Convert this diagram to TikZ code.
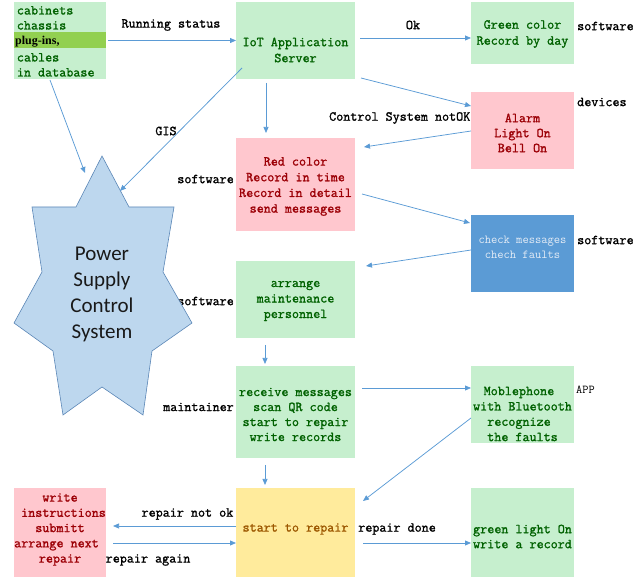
\documentclass[tikz,border=0pt]{standalone}
\usepackage{fontspec}
\newfontfamily\monof[FakeBold=1.3]{Latin Modern Mono}
\newfontfamily\monor{Latin Modern Mono}
\newfontfamily\serff{Liberation Serif}
\newfontfamily\carf{Carlito}
\usetikzlibrary{arrows.meta}
\definecolor{gfill}{HTML}{C6EFCE}
\definecolor{gtext}{HTML}{006100}
\definecolor{rfill}{HTML}{FFC7CE}
\definecolor{rtext}{HTML}{9C0006}
\definecolor{yfill}{HTML}{FFEB9C}
\definecolor{ytext}{HTML}{9C5700}
\definecolor{bfill}{HTML}{5B9BD5}
\definecolor{btext}{HTML}{E4ECF6}
\definecolor{hlfill}{HTML}{92D050}
\definecolor{starfill}{HTML}{BDD7EE}
\definecolor{starline}{HTML}{5A86B6}
\definecolor{arrc}{HTML}{5B9BD5}
\newcommand\boxfont{\monof\fontsize{13.7}{15.5}\selectfont}
\newcommand\boxfontw{\monof\fontsize{13.7}{16}\selectfont}
\newcommand\lblfont{\monof\fontsize{13.7}{14}\selectfont}
\begin{document}
\begin{tikzpicture}[x=1pt,y=-1pt,
  shape box/.style={inner sep=0pt, outer sep=0pt, draw=none},
  gbox/.style={shape box, fill=gfill},
  rbox/.style={shape box, fill=rfill},
  ybox/.style={shape box, fill=yfill},
  bbox/.style={shape box, fill=bfill},
  gtxt/.style={inner sep=0pt, align=center, text=gtext, font=\boxfont},
  rtxt/.style={inner sep=0pt, align=center, text=rtext, font=\boxfont},
  ytxt/.style={inner sep=0pt, align=center, text=ytext, font=\boxfont},
  btxt/.style={inner sep=0pt, align=center, text=btext, font=\monor\fontsize{12.2}{15}\selectfont},
  lbl/.style={inner sep=0pt, font=\lblfont, text=black},
  arr/.style={draw=arrc, line width=0.75pt, -{Triangle[length=6pt,width=5pt]}},
  starsty/.style={fill=starfill, draw=starline, line width=0.6pt, line join=miter}
]
\useasboundingbox (0,0) rectangle (641,577);

% ---- boxes ----
\node[gbox, minimum width=92pt, minimum height=77pt] (box1) at (60,40.5) {};
\fill[hlfill] (14,32) rectangle (106,48.3);
\node[gbox, minimum width=119pt, minimum height=77pt] (iot) at (295.5,40.5) {};
\node[gbox, minimum width=103pt, minimum height=62pt] (green1) at (522.5,33) {};
\node[rbox, minimum width=103pt, minimum height=77pt] (alarm) at (522.5,130.5) {};
\node[rbox, minimum width=119pt, minimum height=93pt] (red) at (295.5,184.5) {};
\node[bbox, minimum width=103pt, minimum height=77pt] (check) at (522.5,253.5) {};
\node[gbox, minimum width=119pt, minimum height=77pt] (arrange) at (295.5,299.5) {};
\node[gbox, minimum width=119pt, minimum height=92pt] (receive) at (295.5,412) {};
\node[gbox, minimum width=103pt, minimum height=77pt] (mobile) at (522.5,404.5) {};
\node[ybox, minimum width=119pt, minimum height=89pt] (start) at (295.5,532.5) {};
\node[rbox, minimum width=92pt, minimum height=89pt] (write) at (60,532.5) {};
\node[gbox, minimum width=103pt, minimum height=89pt] (green2) at (522.5,532.5) {};

% ---- box texts ----
\node[gtxt, anchor=base west] (b1a) at (16.7,14.5) {cabinets};
\node[gtxt, anchor=base west] (b1b) at (16.7,29.5) {chassis};
\node[inner sep=0pt, anchor=base west, font=\serff\bfseries\fontsize{12}{14}\selectfont] (b1c) at (15,44.5) {plug-ins,};
\node[gtxt, anchor=base west] (b1d) at (16.7,61.5) {cables};
\node[gtxt, anchor=base west] (b1e) at (16.7,76.5) {in database};

\node[gtxt, font=\boxfontw] (iot-t) at (295.5,50) {IoT Application\\Server};
\node[gtxt, font=\boxfontw] (green1-t) at (522.5,34) {Green color\\Record by day};
\node[rtxt, font=\monof\fontsize{13.7}{15}\selectfont] (alarm-t) at (522.5,133) {Alarm\\Light On\\Bell On};
\node[rtxt, font=\monof\fontsize{13.7}{15.67}\selectfont] (red-t) at (295.5,186.5) {Red color\\Record in time\\Record in detail\\send messages};
\node[btxt] (check-t) at (522.5,247.5) {check messages\\chech faults};
\node[gtxt] (arrange-t) at (295.5,301) {arrange\\maintenance\\personnel};
\node[gtxt, font=\monof\fontsize{13.7}{15}\selectfont] (receive-t) at (295.5,414.5) {receive messages\\scan QR code\\start to repair\\write records};
\node[gtxt, font=\monof\fontsize{13.7}{15.33}\selectfont] (mobile-t) at (522.5,414) {Moblephone\hphantom{x}\\with Bluetooth\\recognize\hphantom{x}\\the faults};
\node[ytxt] (start-t) at (295.5,529) {start to repair};
\node[rtxt, font=\monof\fontsize{13.7}{15.25}\selectfont] (write-t) at (60,529.5) {write\\\hphantom{x}instructions\\submitt\\arrange next\hphantom{x}\\repair};
\node[gtxt, font=\monof\fontsize{13.7}{15}\selectfont] (green2-t) at (522.5,536.5) {green light On\\write a record};

% ---- labels ----
\node[lbl] (l-run) at (171,25) {Running status};
\node[lbl] (l-ok) at (413,25) {Ok};
\node[lbl, anchor=west] (l-sw1) at (577,26) {software};
\node[lbl, anchor=west] (l-dev) at (577,102) {devices};
\node[lbl, anchor=east] (l-notok) at (470.5,118) {Control System notOK};
\node[lbl] (l-gis) at (166,131) {GIS};
\node[lbl, anchor=east] (l-sw2) at (234,179) {software};
\node[lbl, anchor=west] (l-sw3) at (577,240) {software};
\node[lbl, anchor=east] (l-sw4) at (234,301) {software};
\node[lbl, anchor=east] (l-maint) at (234,407) {maintainer};
\node[inner sep=0pt, anchor=west, font=\monor\fontsize{12}{12}\selectfont] (l-app) at (576,390) {APP};
\node[lbl, anchor=east] (l-notok2) at (233.5,514) {repair not ok};
\node[lbl, anchor=west] (l-again) at (105.5,560) {repair again};
\node[lbl, anchor=west] (l-done) at (358,529) {repair done};

% ---- star ----
\draw[starsty] (102,156) -- (129,207) -- (174,207) -- (163,272) -- (192,323) -- (152,351) -- (143,415) -- (102,387) -- (63,415) -- (53,351) -- (14,323) -- (42,272) -- (32,207) -- (76,207) -- cycle;
\node[inner sep=0pt, align=center, text=black!90, font=\carf\fontsize{21}{26}\selectfont] (psc) at (102,294) {Power\\Supply\\Control\\System};
\coordinate (star-a) at (85,173);
\coordinate (star-b) at (120,191);

% ---- connectors ----
\draw[arr] ([shift={(2,0)}]box1.east) -- (box1.east -| iot.west);
\draw[arr] ([shift={(5,-2.5)}]iot.east) -- ([shift={(0,5)}]green1.west);
\draw[arr] ([shift={(6,-1)}]iot.south east) -- ([shift={(0,14)}]alarm.north west);
\draw[arr] ([shift={(-29.5,4)}]iot.south) -- ([shift={(-29.5,-5)}]red.north);
\draw[arr] ([shift={(0,0.5)}]alarm.west) -- ([shift={(9,9)}]red.north east);
\draw[arr] ([shift={(7,9.5)}]red.east) -- ([shift={(-1,8)}]check.north west);
\draw[arr] ([shift={(0,-3.5)}]check.west) -- ([shift={(11,5)}]arrange.north east);
\draw[arr] ([shift={(-30.5,7)}]arrange.south) -- ([shift={(-30.5,-2)}]receive.north);
\draw[arr] ([shift={(7,-24)}]receive.east) -- ([shift={(0,-16.5)}]mobile.west);
\draw[arr] ([shift={(0,13.5)}]mobile.west) -- ([shift={(8,13)}]start.north east);
\draw[arr] ([shift={(-30.5,7)}]receive.south) -- ([shift={(-30.5,-3)}]start.north);
\draw[arr] ([shift={(0,-6.5)}]start.west) -- ([shift={(7,-6.5)}]write.east);
\draw[arr] ([shift={(7,10.5)}]write.east) -- ([shift={(0,10.5)}]start.west);
\draw[arr] ([shift={(8,10.5)}]start.east) -- ([shift={(0,10.5)}]green2.west);
\draw[arr] ([shift={(-10,1)}]box1.south) -- (star-a);
\draw[arr] ([shift={(6,-11)}]iot.south west) -- (star-b);
\end{tikzpicture}
\end{document}
